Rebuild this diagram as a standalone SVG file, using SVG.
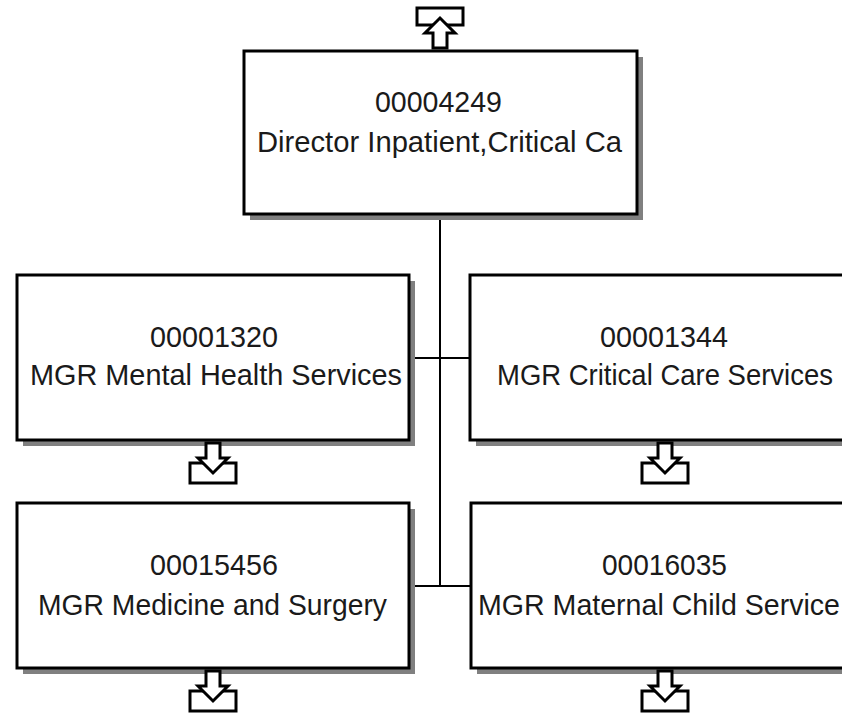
<svg xmlns="http://www.w3.org/2000/svg" width="842" height="713" viewBox="0 0 842 713">
<style>
.box{fill:#fff;stroke:#000;stroke-width:3}
.shd{fill:#808080}
.t{font-family:"Liberation Sans",Arial,sans-serif;font-size:30px;fill:#1a1a1a}
.ln{stroke:#000;stroke-width:2;fill:none}
.ic{fill:#fff;stroke:#000;stroke-width:3;stroke-linejoin:miter}
</style>
<rect width="842" height="713" fill="#fff"/>
<g id="connectors">
<line class="ln" x1="440" y1="214" x2="440" y2="587"/>
<line class="ln" x1="409" y1="358" x2="470" y2="358"/>
<line class="ln" x1="409" y1="586" x2="471" y2="586"/>
</g>
<g id="n00004249">
<rect class="shd" x="250" y="57" width="393" height="163"/>
<rect class="box" x="244" y="51" width="393" height="163"/>
<text class="t" x="375" y="112" textLength="127" lengthAdjust="spacingAndGlyphs">00004249</text>
<text class="t" x="257" y="152" textLength="365" lengthAdjust="spacingAndGlyphs">Director Inpatient,Critical Ca</text>
<rect class="ic" x="417" y="8" width="46" height="17"/>
<path class="ic" d="M433,48 L447,48 L447,33 L455,33 L440,18 L425,33 L433,33 Z"/>
</g>
<g id="n00001320">
<rect class="shd" x="23" y="281" width="392" height="165"/>
<rect class="box" x="17" y="275" width="392" height="165"/>
<text class="t" x="150" y="347" textLength="128" lengthAdjust="spacingAndGlyphs">00001320</text>
<text class="t" x="30" y="385" textLength="372" lengthAdjust="spacingAndGlyphs">MGR Mental Health Services</text>
<rect class="ic" x="190" y="463" width="46" height="20"/>
<path class="ic" d="M206,443 L220,443 L220,458 L228,458 L213,473 L198,458 L206,458 Z"/>
</g>
<g id="n00001344">
<rect class="shd" x="476" y="281" width="390" height="165"/>
<rect class="box" x="470" y="275" width="390" height="165"/>
<text class="t" x="600" y="347" textLength="128" lengthAdjust="spacingAndGlyphs">00001344</text>
<text class="t" x="497" y="385" textLength="336" lengthAdjust="spacingAndGlyphs">MGR Critical Care Services</text>
<rect class="ic" x="642" y="463" width="46" height="20"/>
<path class="ic" d="M658,443 L672,443 L672,458 L680,458 L665,473 L650,458 L658,458 Z"/>
</g>
<g id="n00015456">
<rect class="shd" x="23" y="509" width="392" height="165"/>
<rect class="box" x="17" y="503" width="392" height="165"/>
<text class="t" x="150" y="575" textLength="128" lengthAdjust="spacingAndGlyphs">00015456</text>
<text class="t" x="38" y="615" textLength="349" lengthAdjust="spacingAndGlyphs">MGR Medicine and Surgery</text>
<rect class="ic" x="190" y="691" width="46" height="20"/>
<path class="ic" d="M206,671 L220,671 L220,686 L228,686 L213,701 L198,686 L206,686 Z"/>
</g>
<g id="n00016035">
<rect class="shd" x="477" y="509" width="390" height="165"/>
<rect class="box" x="471" y="503" width="390" height="165"/>
<text class="t" x="602" y="575" textLength="125" lengthAdjust="spacingAndGlyphs">00016035</text>
<text class="t" x="478" y="615" textLength="362" lengthAdjust="spacingAndGlyphs">MGR Maternal Child Service</text>
<rect class="ic" x="642" y="691" width="46" height="20"/>
<path class="ic" d="M658,671 L672,671 L672,686 L680,686 L665,701 L650,686 L658,686 Z"/>
</g>
</svg>
